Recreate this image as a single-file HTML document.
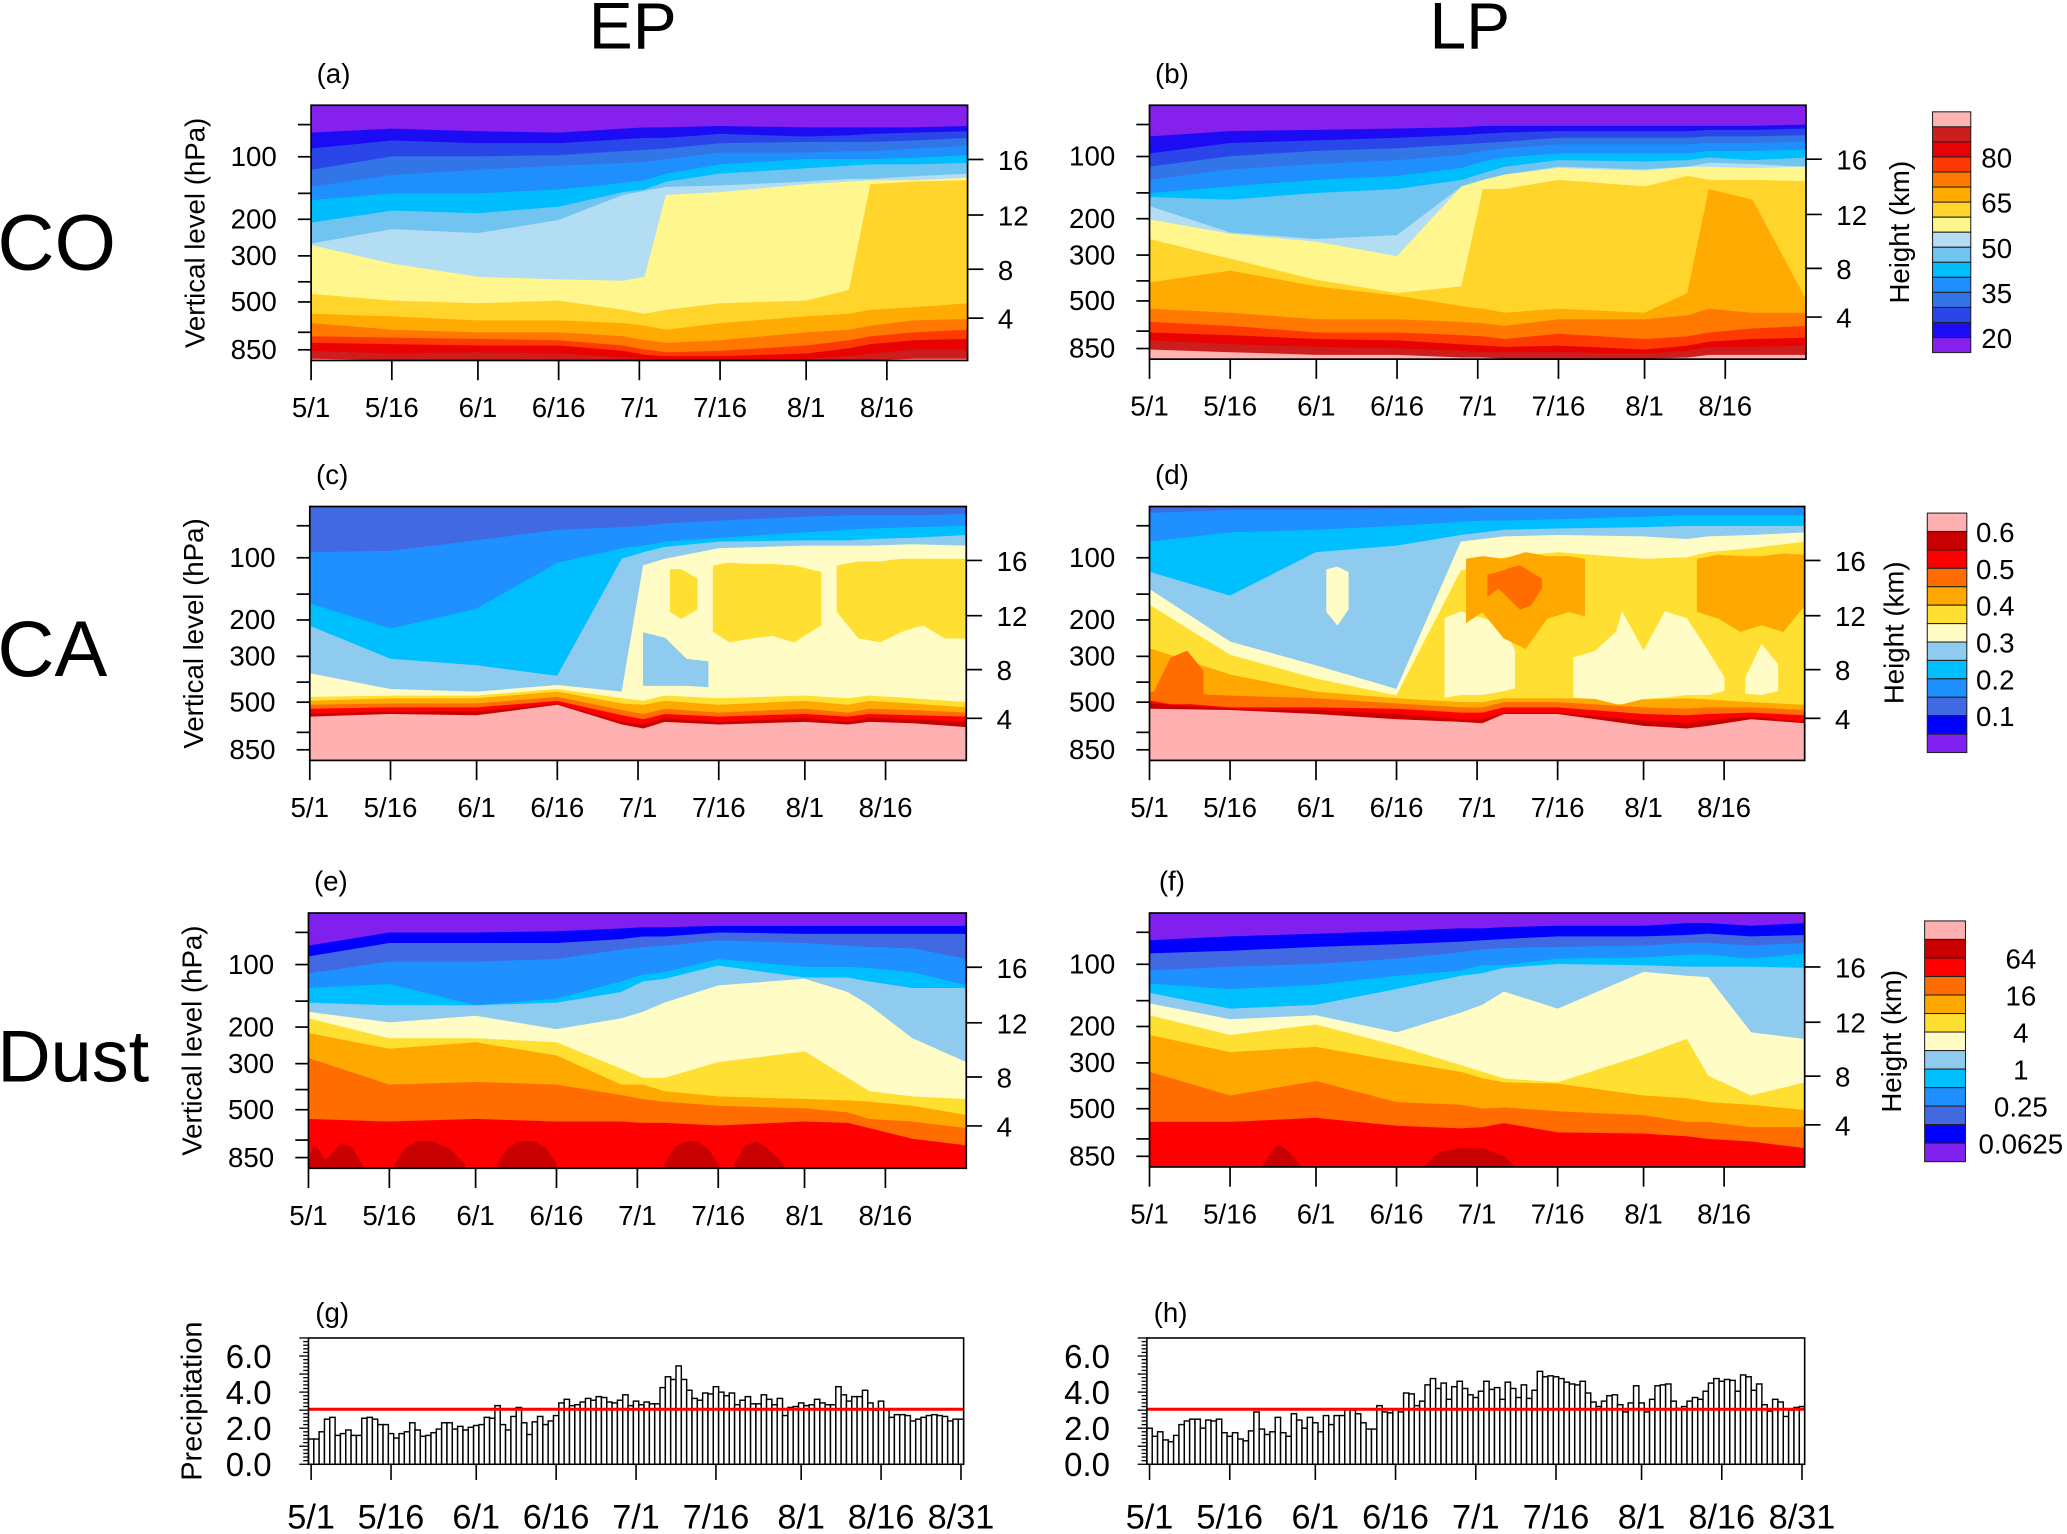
<!DOCTYPE html>
<html><head><meta charset="utf-8"><style>
html,body{margin:0;padding:0;background:#fff;}
svg{display:block;}
text{font-family:"Liberation Sans Narrow","Liberation Sans",sans-serif;fill:#000;}
.reg{font-family:"Liberation Sans",sans-serif;}
</style></head><body>
<svg id="fig" width="2067" height="1534" viewBox="0 0 1568 1166" preserveAspectRatio="none" xmlns="http://www.w3.org/2000/svg">
<rect x="0" y="0" width="1568" height="1166" fill="#fff"/>
<text class="reg" x="480" y="37" font-size="50" text-anchor="middle">EP</text>
<text class="reg" x="1115" y="37" font-size="50" text-anchor="middle">LP</text>
<text class="reg" x="-2" y="205" font-size="60">CO</text>
<text class="reg" x="-2" y="514" font-size="60">CA</text>
<text class="reg" x="-2" y="822" font-size="56">Dust</text>
</svg>
<script>
// ---------- data ----------
const gridDays = [0,15,31,46,58,62,66,76,92,100,104,112,122];
const xTickDays = [0,15,31,46,61,76,92,107];
const xTickLabels = ['5/1','5/16','6/1','6/16','7/1','7/16','8/1','8/16'];
const pxTickDays = [0,15,31,46,61,76,92,107,122];
const pxTickLabels = ['5/1','5/16','6/1','6/16','7/1','7/16','8/1','8/16','8/31'];
const pTicks = [70,100,150,200,300,400,500,700,850];
const pLabels = [100,200,300,500,850];
const hTickLabels = [16,12,8,4];
const hTickZ = [15.5,11.3,7.2,3.5];
const coColors = ['#8421ec','#1c0cf4','#2b46e8','#3175e6','#1e8ffc','#00bdfd','#72c4f0','#b2ddf2','#fff68e','#ffd52b','#ffab02','#ff7901','#ff3a00','#e80202','#cd1e1e','#ffb3b3'];
const aerColors = ['#8020ee','#0000ff','#4169e1','#1e90ff','#00bfff','#8ecbee','#fffcc6','#ffdf32','#ffa900','#ff6c00','#ff0000','#c80000','#ffb0b0'];
const coLabels = ['80','65','50','35','20'];
const caLabels = ['0.6','0.5','0.4','0.3','0.2','0.1'];
const dustLabels = ['64','16','4','1','0.25','0.0625'];

// contour boundaries (log-pressure height, km) on gridDays
const coEP = [
[17.5,17.8,17.6,17.5,17.8,17.9,17.9,18.0,17.9,17.9,17.9,17.9,18.0],
[16.3,16.9,16.7,16.7,17.0,17.1,17.1,17.4,17.2,17.3,17.4,17.5,17.6],
[14.7,15.7,15.7,15.8,16.1,16.2,16.3,16.7,16.8,16.8,16.8,16.9,17.1],
[13.4,14.3,14.7,15.0,15.2,15.3,15.5,16.0,16.0,16.1,16.1,16.3,16.5],
[12.4,12.9,12.9,13.2,13.7,13.9,14.4,15.1,15.5,15.5,15.5,15.6,15.8],
[10.7,11.6,11.4,11.9,13.0,13.2,13.8,14.4,14.8,15.0,15.1,15.1,15.2],
[9.1,10.2,9.9,10.9,12.8,13.1,13.4,13.5,13.8,14.0,14.0,14.2,14.4],
[9.0,7.6,6.6,6.4,6.3,6.6,12.8,13.0,13.6,13.8,13.9,13.9,14.1],
[5.3,4.8,4.6,4.8,4.1,3.8,4.1,4.6,4.8,5.6,13.6,13.8,13.9],
[3.8,3.6,3.3,3.3,3.1,2.9,2.6,3.1,3.6,3.8,4.1,4.3,4.6],
[3.1,2.6,2.4,2.4,2.1,1.8,1.6,1.8,2.4,2.6,2.9,3.3,3.4],
[2.1,2.0,1.9,1.8,1.4,1.1,0.9,1.0,1.4,1.8,2.1,2.4,2.6],
[1.6,1.5,1.4,1.4,1.0,0.7,0.6,0.6,0.8,1.2,1.5,1.8,1.9],
[1.0,0.8,0.9,0.8,0.5,0.4,0.3,0.3,0.4,0.6,0.8,1.1,1.1],
[0.4,0.3,0.3,0.3,0.3,0.3,0.3,0.3,0.3,0.3,0.3,0.4,0.4]];
const coLP = [
[17.2,17.6,17.7,17.8,17.9,18.0,18.0,18.0,18.0,18.0,18.0,18.0,18.1],
[15.9,16.7,16.9,17.1,17.3,17.4,17.5,17.6,17.6,17.6,17.7,17.7,17.8],
[14.9,15.7,16.1,16.3,16.6,16.7,16.8,17.1,17.1,17.1,17.2,17.2,17.3],
[13.9,14.7,15.1,15.4,15.8,16.1,16.3,16.6,16.6,16.6,16.7,16.7,16.8],
[12.9,13.4,13.9,14.2,14.8,15.3,15.6,15.9,15.9,15.9,16.1,16.1,16.2],
[12.6,12.4,12.9,13.2,13.9,14.4,14.9,15.4,15.3,15.4,15.6,15.4,15.6],
[11.9,9.9,9.4,9.7,13.4,13.9,14.3,14.9,14.7,14.9,15.2,15.1,14.9],
[10.9,9.8,9.2,8.1,13.4,13.9,14.3,14.8,14.6,14.9,14.9,14.8,14.9],
[9.4,7.9,6.3,5.3,5.8,13.2,13.2,13.9,13.4,14.2,13.9,13.9,13.8],
[6.1,7.0,5.8,5.1,4.3,4.1,3.8,4.1,3.8,5.3,13.2,12.4,4.8],
[4.1,3.8,3.3,3.3,3.1,3.0,2.8,3.3,3.3,3.6,4.1,3.8,3.8],
[3.1,2.8,2.3,2.3,2.1,2.0,1.8,2.2,1.8,2.0,2.3,2.6,2.8],
[2.3,2.1,1.8,1.7,1.4,1.3,1.2,1.3,1.0,1.3,1.6,1.8,1.9],
[1.7,1.4,1.2,1.1,0.9,0.8,0.8,0.8,0.7,0.9,1.2,1.2,1.3],
[1.0,0.8,0.6,0.6,0.4,0.4,0.3,0.3,0.3,0.4,0.6,0.6,0.6]];
const caEP = [
[16.1,16.2,17.0,17.8,18.0,18.1,18.3,18.5,18.8,18.9,18.9,18.9,19.0],
[12.2,10.3,11.8,15.3,16.4,16.6,16.9,17.2,17.6,17.8,17.9,18.0,18.1],
[10.5,8.0,7.5,6.7,15.6,16.1,16.5,16.9,17.0,17.0,17.1,17.2,17.4],
[6.9,5.7,5.5,6.0,5.5,15.1,15.6,16.4,16.6,16.6,16.6,16.7,16.6],
[5.1,5.2,5.2,5.7,5.0,4.8,5.2,5.0,5.2,5.0,5.2,5.0,4.7],
[4.8,5.0,5.0,5.5,4.6,4.5,4.8,4.5,4.8,4.5,4.8,4.6,4.3],
[4.5,4.6,4.6,5.1,4.1,3.8,4.2,3.9,4.2,3.9,4.2,4.1,3.9],
[4.2,4.3,4.3,4.8,3.7,3.4,3.8,3.6,3.8,3.6,3.8,3.7,3.6],
[3.8,4.0,4.0,4.6,3.2,3.0,3.5,3.2,3.5,3.2,3.5,3.4,3.2],
[3.6,3.8,3.7,4.5,3.0,2.7,3.2,3.0,3.2,3.0,3.2,3.1,2.8]];
const caLP = [
[19.1,19.3,19.3,19.4,19.4,19.5,19.5,19.5,19.5,19.5,19.5,19.5,19.5],
[16.9,17.6,17.8,18.1,18.4,18.5,18.5,18.6,18.8,18.9,18.9,18.9,18.9],
[14.6,12.8,16.1,16.6,17.4,17.6,17.8,17.9,18.0,18.1,18.1,18.1,18.1],
[13.3,9.3,7.5,5.7,16.9,17.1,17.3,17.4,17.3,17.1,17.3,17.4,17.6],
[12.1,8.3,6.5,5.2,14.7,15.1,15.7,16.1,15.6,15.7,16.1,16.4,16.9],
[8.8,6.8,5.5,5.0,4.7,4.7,5.0,5.0,4.9,5.0,4.9,4.7,4.5],
[5.5,5.2,5.0,4.6,4.3,4.3,4.7,4.7,4.3,4.2,4.3,4.3,4.1],
[4.8,4.3,4.3,4.2,3.9,3.9,4.3,4.3,3.8,3.7,3.8,3.9,3.7],
[4.6,4.2,4.1,3.8,3.4,3.4,3.9,3.9,3.3,3.1,3.3,3.6,3.2],
[4.2,4.1,3.8,3.4,3.2,3.1,3.8,3.8,2.9,2.7,2.9,3.4,3.1]];
const dustEP = [
[17.1,18.1,18.1,18.2,18.4,18.5,18.5,18.6,18.6,18.6,18.6,18.6,18.6],
[16.3,17.3,17.3,17.3,17.6,17.8,17.8,18.1,18.0,18.0,18.0,18.0,18.0],
[15.0,15.9,15.9,16.1,16.8,17.0,17.1,17.5,17.3,17.1,17.0,16.9,16.1],
[13.9,14.2,12.6,13.1,14.4,14.9,15.1,16.1,15.5,15.5,15.4,15.1,14.1],
[12.8,12.6,12.6,12.8,13.6,14.4,14.6,15.6,14.7,14.7,14.4,13.9,13.9],
[12.1,11.3,11.8,10.8,11.6,12.1,12.8,14.1,14.6,13.6,12.6,10.1,8.3],
[11.6,10.1,10.1,9.8,7.8,7.1,7.1,8.3,9.1,7.1,6.1,5.7,5.5],
[10.5,9.3,9.8,8.8,6.6,6.6,6.1,5.7,5.5,5.4,5.3,5.0,4.3],
[8.6,6.6,6.8,6.6,5.8,5.5,5.3,5.0,4.8,4.5,4.0,3.8,3.3],
[4.0,3.8,4.0,3.8,3.8,3.7,3.7,3.5,3.8,3.7,3.3,2.5,2.0]];
const dustLP = [
[17.5,17.8,18.0,18.2,18.4,18.4,18.5,18.6,18.6,18.8,18.8,18.6,18.8],
[16.5,16.7,17.0,17.2,17.4,17.5,17.6,17.8,17.8,17.9,18.0,17.8,17.9],
[15.2,15.5,15.7,16.1,16.6,16.8,16.9,17.0,17.1,17.3,17.3,17.1,17.3],
[14.2,13.8,14.1,14.8,15.2,15.6,15.6,16.1,16.2,16.4,16.4,16.1,16.5],
[13.5,12.3,12.6,13.8,14.8,15.0,15.4,15.7,15.6,15.5,15.5,15.5,15.4],
[12.7,11.5,11.8,10.5,12.0,12.6,13.6,12.3,15.1,14.8,14.7,10.5,10.0],
[11.8,10.3,11.1,9.5,8.0,7.5,7.0,6.7,8.8,10.0,7.2,5.7,6.7],
[10.3,9.0,9.4,8.3,7.5,7.0,6.7,6.6,5.7,5.5,5.2,5.0,4.6],
[7.5,5.7,6.8,5.2,5.0,4.7,4.8,4.5,4.2,3.7,3.7,3.3,3.3],
[3.7,3.7,4.0,3.4,3.2,3.3,3.6,2.9,2.8,2.6,2.4,2.2,1.7]];

const caEPPatches = [
{c:7,d:[75,78,82,86,90,95],top:[15.1,15.3,15.2,15.2,15.1,14.6],bot:[10.1,9.3,9.6,9.8,9.3,10.6]},
{c:7,d:[98,102,106,110,114,118,122],top:[15.1,15.4,15.4,15.6,15.6,15.6,15.6],bot:[11.6,9.6,9.3,10.1,10.6,9.6,9.6]},
{c:7,d:[67,69,72],top:[14.8,14.8,14.1],bot:[11.6,11.1,11.8]},
{c:5,d:[62,66,70,74],top:[10.0,9.6,8.0,7.8],bot:[6.0,6.0,6.0,5.9]}];
const caLPPatches = [
{c:6,d:[33,35,37],top:[14.8,15.0,14.6],bot:[11.6,10.6,11.8]},
{c:6,d:[55,58,62,66,68],top:[11.1,11.6,11.1,10.6,8.6],bot:[5.1,5.3,5.3,5.6,5.8]},
{c:6,d:[79,83,87,88,92,96,100,104,107],top:[8.1,8.6,10.1,11.6,8.6,11.6,11.1,8.6,6.6],bot:[5.1,5.0,4.6,4.6,5.0,5.1,5.3,5.3,5.6]},
{c:6,d:[111,114,117],top:[6.6,9.1,7.6],bot:[5.4,5.3,5.6]},
{c:8,d:[59,62,66,70,74,78,81],top:[15.6,15.8,15.6,16.1,15.8,15.8,15.6],bot:[10.8,11.6,9.6,8.8,11.1,11.6,11.3]},
{c:8,d:[102,106,110,114,118,122],top:[15.6,15.9,15.8,15.8,16.0,15.9],bot:[11.6,11.1,10.1,10.6,10.1,12.1]},
{c:9,d:[63,65,67,69,71,73],top:[14.4,14.6,14.9,15.1,14.6,14.1],bot:[12.8,13.4,12.6,11.8,12.1,13.4]},
{c:9,d:[1,4,7,10],top:[5.6,8.1,8.6,7.1],bot:[4.8,4.6,4.6,4.8]}];
const dustEPPatches = [
{c:11,d:[0,1,2,3,4,6,8,10],top:[0.8,2.0,1.6,0.9,1.2,2.1,1.9,0.5],bot:null},
{c:11,d:[16,18,20,23,26,29],top:[0.6,1.8,2.3,2.3,1.8,0.6],bot:null},
{c:11,d:[35,37,39,42,44,46],top:[0.6,1.8,2.3,2.3,1.8,0.6],bot:null},
{c:11,d:[66,68,70,72,74,76],top:[0.6,1.9,2.3,2.3,1.8,0.6],bot:null},
{c:11,d:[79,81,83,85,87,88],top:[0.6,2.0,2.3,1.8,1.1,0.6],bot:null}];
const dustLPPatches = [
{c:11,d:[21,23,24,26,28],top:[0.3,1.6,2.0,1.4,0.4],bot:null},
{c:11,d:[51,54,58,62,66,68],top:[0.3,1.4,1.7,1.7,1.1,0.3],bot:null}];

const precipEP = [1.4,1.4,1.8,2.5,2.6,1.6,1.7,1.9,1.6,1.6,
2.55,2.6,2.5,2.2,2.2,1.7,1.45,1.7,1.8,2.3,
1.9,1.55,1.6,1.75,1.95,2.3,2.3,1.95,2.1,1.9,
2.05,2.15,2.2,2.6,2.55,3.25,2.2,1.9,2.65,3.15,
2.3,1.65,2.35,2.65,2.2,2.4,2.7,3.4,3.6,3.25,
3.3,3.45,3.65,3.55,3.75,3.7,3.45,3.4,3.55,3.85,
3.25,3.5,3.3,3.45,3.35,3.35,4.25,4.85,4.7,5.45,
4.7,4.1,3.65,3.55,3.95,3.9,4.3,4.0,3.8,3.95,
3.3,3.55,3.75,3.35,3.35,3.85,3.6,3.3,3.65,2.7,
3.15,3.2,3.4,3.25,3.3,3.6,3.4,3.3,3.3,4.3,
3.85,3.5,3.75,3.75,4.1,3.4,3.0,3.5,3.0,2.6,
2.75,2.75,2.7,2.4,2.5,2.6,2.7,2.75,2.7,2.65,2.4,2.5,2.5];
const precipLP = [2.0,1.55,1.8,1.35,1.25,1.6,2.2,2.4,2.5,2.5,
2.0,2.45,2.4,2.5,1.75,1.55,1.75,1.4,1.3,1.85,
2.9,1.95,1.65,1.8,2.6,1.75,1.55,2.8,2.45,2.0,
2.6,2.3,1.8,2.7,2.2,2.7,2.7,3.05,3.0,2.8,
2.3,1.95,1.95,3.25,2.9,2.85,3.05,2.9,3.95,3.9,
3.25,3.5,4.4,4.75,4.2,4.5,3.6,4.3,4.6,4.2,
3.85,3.7,4.05,4.6,4.15,4.25,3.6,4.55,4.2,3.7,
4.4,3.65,4.1,5.15,4.85,4.9,4.85,4.75,4.55,4.45,
4.4,4.6,3.95,3.45,3.2,3.5,3.8,3.85,3.3,2.9,
3.4,4.35,3.4,2.9,3.6,4.35,4.4,4.45,3.5,3.1,
3.2,3.5,3.7,3.6,4.05,4.5,4.75,4.6,4.7,4.65,
4.05,4.95,4.85,4.1,4.45,3.3,2.95,3.6,3.45,2.65,
3.0,3.15,3.2];
const precipRef = [3.05];
const precipYMax = 7;

// ---------- drawing ----------
const NS='http://www.w3.org/2000/svg';
const svg=document.getElementById('fig');
function mk(tag,attrs,parent){const e=document.createElementNS(NS,tag);for(const k in attrs)e.setAttribute(k,attrs[k]);(parent||svg).appendChild(e);return e;}
const Z_TOP=19.6;
const zOfP=p=>6.82*Math.log(1000/p);

function contourPanel(p,topIdx,colors,bounds,patches,name,letter,showLeft,showRight){
  const g=mk('g',{});
  
  
  const X=d=>p.x+d/122*p.w;
  const Y=z=>p.y+(Z_TOP-z)*10*p.h/193;
  const cp=mk('clipPath',{id:'clip-'+name},g);
  mk('rect',{x:p.x,y:p.y,width:p.w,height:p.h},cp);
  const inner=mk('g',{'clip-path':'url(#clip-'+name+')'},g);
  const bg=mk('rect',{x:p.x,y:p.y,width:p.w,height:p.h,fill:colors[topIdx]},inner);
  
  
  bounds.forEach((b,k)=>{
    const pts=gridDays.map((d,i)=>X(d).toFixed(1)+','+Y(b[i]).toFixed(1));
    pts.push(X(122)+','+(p.y+p.h+5),X(0)+','+(p.y+p.h+5));
    const c=colors[topIdx+k+1];
    const poly=mk('polygon',{points:pts.join(' '),fill:c,stroke:c,'stroke-width':0.6},inner);
    
    
  });
  patches.forEach(pa=>{
    const pts=pa.d.map((d,i)=>X(d).toFixed(1)+','+Y(pa.top[i]).toFixed(1));
    if(pa.bot){for(let i=pa.d.length-1;i>=0;i--)pts.push(X(pa.d[i]).toFixed(1)+','+Y(pa.bot[i]).toFixed(1));}
    else{pts.push(X(pa.d[pa.d.length-1])+','+(p.y+p.h+5),X(pa.d[0])+','+(p.y+p.h+5));}
    const poly=mk('polygon',{points:pts.join(' '),fill:colors[pa.c],stroke:colors[pa.c],'stroke-width':0.6},inner);
    
    
  });
  const fr=mk('rect',{x:p.x,y:p.y,width:p.w,height:p.h,fill:'none',stroke:'#000','stroke-width':1.3},g);
  
  
  // x ticks
  xTickDays.forEach((d,i)=>{
    mk('line',{x1:X(d),x2:X(d),y1:p.y+p.h,y2:p.y+p.h+15,stroke:'#000','stroke-width':1.3},g);
    const t=mk('text',{x:X(d),y:p.y+p.h+43,'font-size':21,'text-anchor':'middle'},g);
    t.textContent=xTickLabels[i];
    
    
  });
  // left pressure ticks
  pTicks.forEach(pr=>{
    const y=Y(zOfP(pr));
    mk('line',{x1:p.x-10,x2:p.x,y1:y,y2:y,stroke:'#000','stroke-width':1.3},g);
    if(pLabels.includes(pr)){
      const t=mk('text',{x:p.x-26,y:y+7,'font-size':21,'text-anchor':'end'},g);
      t.textContent=pr;
      
      
    }
  });
  // right height ticks
  hTickZ.forEach((z,i)=>{
    const y=Y(z);
    mk('line',{x1:p.x+p.w,x2:p.x+p.w+12,y1:y,y2:y,stroke:'#000','stroke-width':1.3},g);
    const t=mk('text',{x:p.x+p.w+23,y:y+8,'font-size':21},g);
    t.textContent=hTickLabels[i];
    
    
  });
  const lt=mk('text',{x:p.x+17,y:p.y-17,'font-size':21,'text-anchor':'middle'},g);
  lt.textContent=letter;
  
  
  if(showLeft){
    const cy=p.y+p.h/2;
    const t=mk('text',{x:0,y:0,'font-size':21,'text-anchor':'middle',transform:`translate(${p.x-81},${cy}) rotate(-90)`,class:'reg'},g);
    t.textContent='Vertical level (hPa)';
    
    
  }
}

function colorbar(x,y,w,h,colors,labels,labelEvery,labelStart,labelX,anchor,name){
  const g=mk('g',{});
  
  
  const n=colors.length, bh=h/n;
  for(let i=0;i<n;i++){
    const r=mk('rect',{x:x,y:y+i*bh,width:w,height:bh,fill:colors[n-1-i],stroke:'#222','stroke-width':0.8},g);
    
    
  }
  labels.forEach((l,j)=>{
    const k=labelStart+j*labelEvery;
    const t=mk('text',{x:labelX,y:y+k*bh+8,'font-size':21,'text-anchor':anchor,class:'reg'},g);
    t.textContent=l;
    
    
  });
  const t=mk('text',{x:0,y:0,'font-size':21,'text-anchor':'middle',class:'reg',transform:`translate(${x-18},${y+h/2}) rotate(-90)`},g);
  t.textContent='Height (km)';
  
  
}

function precipPanel(p,vals,name,letter,showTitle){
  const g=mk('g',{});
  
  
  const n=vals.length, bw=p.w/n;
  const Y=v=>p.y+p.h-v/precipYMax*p.h;
  vals.forEach((v,i)=>{
    const r=mk('rect',{x:p.x+i*bw,y:Y(v),width:bw,height:p.y+p.h-Y(v),fill:'#fff',stroke:'#000','stroke-width':1.1},g);
    
    
  });
  const ref=mk('line',{x1:p.x,x2:p.x+p.w,y1:Y(precipRef[0]),y2:Y(precipRef[0]),stroke:'#ff0000','stroke-width':2.2},g);
  
  
  const fr=mk('rect',{x:p.x,y:p.y,width:p.w,height:p.h,fill:'none',stroke:'#000','stroke-width':1.2},g);
  
  
  for(let k=0;k<=35;k++){
    const v=k*0.2, y=Y(v), major=(k%5===0);
    mk('line',{x1:p.x-(major?7:4),x2:p.x,y1:y,y2:y,stroke:'#000','stroke-width':1},g);
  }
  [0,2,4,6].forEach(v=>{
    const t=mk('text',{x:p.x-28,y:Y(v)+9,'font-size':25,'text-anchor':'end'},g);
    t.textContent=v.toFixed(1);
    
    
  });
  pxTickDays.forEach((d,i)=>{
    const x=p.x+(d+0.5)/123*p.w;
    mk('line',{x1:x,x2:x,y1:p.y+p.h,y2:p.y+p.h+12,stroke:'#000','stroke-width':1.2},g);
    const t=mk('text',{x:x,y:p.y+p.h+49,'font-size':26,'text-anchor':'middle'},g);
    t.textContent=pxTickLabels[i];
    
    
  });
  const lt=mk('text',{x:p.x+18,y:p.y-12,'font-size':21,'text-anchor':'middle'},g);
  lt.textContent=letter;
  
  
  if(showTitle){
    const t=mk('text',{x:0,y:0,'font-size':22,'text-anchor':'middle',class:'reg',transform:`translate(${p.x-81},${p.y+p.h/2}) rotate(-90)`},g);
    t.textContent='Precipitation';
    
    
  }
}

contourPanel({x:236,y:80,w:498,h:194},0,coColors,coEP,[],'panel-a-co-ep','(a)',true);
contourPanel({x:872,y:80,w:498,h:193},0,coColors,coLP,[],'panel-b-co-lp','(b)',false);
contourPanel({x:235,y:385,w:498,h:193},2,aerColors,caEP,caEPPatches,'panel-c-ca-ep','(c)',true);
contourPanel({x:872,y:385,w:497,h:193},2,aerColors,caLP,caLPPatches,'panel-d-ca-lp','(d)',false);
contourPanel({x:234,y:694,w:499,h:194},0,aerColors,dustEP,dustEPPatches,'panel-e-dust-ep','(e)',true);
contourPanel({x:872,y:694,w:497,h:193},0,aerColors,dustLP,dustLPPatches,'panel-f-dust-lp','(f)',false);
colorbar(1466,85,29,183,coColors,coLabels,3,3,1503,'start','colorbar-co');
colorbar(1462,390,30,182,aerColors,caLabels,2,1,1499,'start','colorbar-ca');
colorbar(1460,700,31,183,aerColors,dustLabels,2,2,1533,'middle','colorbar-dust');
precipPanel({x:234,y:1017,w:497,h:96},precipEP,'panel-g-precip-ep','(g)',true);
precipPanel({x:870,y:1017,w:499,h:96},precipLP,'panel-h-precip-lp','(h)',false);
</script>
</body></html>
